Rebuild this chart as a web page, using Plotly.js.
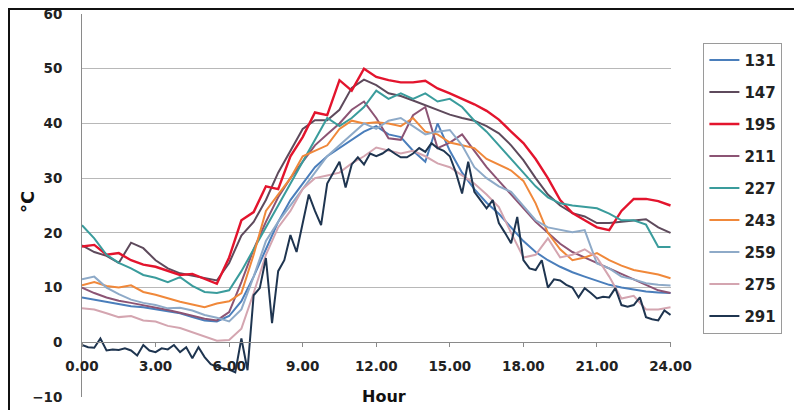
<!DOCTYPE html>
<html>
<head>
<meta charset="utf-8">
<script src="https://cdn.plot.ly/plotly-3.0.1.min.js"></script>
<style>
  html, body { margin: 0; padding: 0; background: #fff; }
  #wrap { position: relative; width: 794px; height: 410px; overflow: hidden; }
  #chart { position: absolute; left: 0; top: 0; width: 794px; height: 410px; }
  #frame { position: absolute; left: 8px; top: 8px; width: 800px; height: 420px;
           border-left: 2px solid #111; border-top: 2px solid #111; pointer-events: none; }
</style>
</head>
<body>
<div id="wrap">
  <div id="chart"></div>
  <div id="frame"></div>
</div>
<script>
// ---- data ----
const hours = [0,0.5,1,1.5,2,2.5,3,3.5,4,4.5,5,5.5,6,6.5,7,7.5,8,8.5,9,9.5,10,10.5,11,11.5,12,
  12.5,13,13.5,14,14.5,15,15.5,16,16.5,17,17.5,18,18.5,19,19.5,20,20.5,21,21.5,22,22.5,23,23.5,24];

const hoursQ = [0,0.25,0.5,0.75,1,1.25,1.5,1.75,2,2.25,2.5,2.75,3,3.25,3.5,3.75,4,4.25,4.5,4.75,
  5,5.25,5.5,5.75,6,6.25,6.5,6.75,7,7.25,7.5,7.75,8,8.25,8.5,8.75,9,9.25,9.5,9.75,
  10,10.25,10.5,10.75,11,11.25,11.5,11.75,12,12.25,12.5,12.75,13,13.25,13.5,13.75,
  14,14.25,14.5,14.75,15,15.25,15.5,15.75,16,16.25,16.5,16.75,17,17.25,17.5,17.75,
  18,18.25,18.5,18.75,19,19.25,19.5,19.75,20,20.25,20.5,20.75,21,21.25,21.5,21.75,
  22,22.25,22.5,22.75,23,23.25,23.5,23.75,24];

const s131 = [8.2,7.8,7.4,7.0,6.6,6.4,6.0,5.6,5.3,4.6,4.0,3.8,4.8,7.5,12,17,22,26,29,32,34,35.5,37,38.5,39.5,
  38,37.5,35,33,40,35,31,28,25.5,23.5,21,18.5,16.5,15,13.8,12.8,12,11.3,10.5,10,9.6,9.3,9.1,9];

const s147 = [17.7,16.5,15.8,14.5,18.2,17.2,15,13.5,12.6,12.2,11.8,11.3,14.5,19.5,22,26,31,35,39,40.6,40.6,42.5,46.5,48,47,
  45.5,45,44.2,43.3,42.5,41.6,41,40.5,39.5,38.2,36,33.3,30,27,25,23.6,23,21.8,21.8,22,22.3,22.5,21,20];

const s195 = [17.5,17.8,16.0,16.3,15.0,14.2,13.8,13.0,12.3,12.5,11.6,10.7,15.5,22.3,23.8,28.5,28,34,37.5,42,41.5,47.9,46,50,48.5,
  47.9,47.5,47.5,47.8,46.4,45.5,44.5,43.5,42.3,40.7,38.5,36.4,33.5,30,26,23.6,22.3,21,20.5,24,26.2,26.2,25.8,25];

const s211 = [10,9,8.2,7.6,7.2,6.8,6.3,5.9,5.4,4.8,4.3,4.0,5.5,11,17,22,26.5,30,33,36,38,40,42.5,44,41,
  37.3,37,41.5,43,35.5,36.5,38,35,32,29.5,27,24.5,22,20,18,16.5,15.5,14.5,13.5,12.5,11.5,10.5,9.5,9];

const s227 = [21.4,19,16,14.5,13.5,12.3,11.8,11,11.9,10.3,9.2,9,9.5,13,17,21,25,29,33,37,41,39.5,41,43,46,
  44.5,45.5,44.5,45.5,44,44.5,43,40.5,38.5,36,33.5,30.9,28.5,26.5,25.4,25,24.7,24.5,23.5,22.3,22.3,21.5,17.4,17.4];

const s243 = [10.4,11,10.3,10,10.4,9.2,8.7,8,7.4,6.9,6.4,7.1,7.5,9,16,24,27,30,34,35,36,39,40.5,40,40.2,
  40,39.5,41,38.5,38,36.5,36,35.5,33.5,32.5,31.4,29.5,25.4,20,17,15,15.5,16.3,15,14,13.2,12.8,12.4,11.7];

const s259 = [11.5,12,10,8.8,7.8,7.2,6.8,6.2,6.3,5.8,5.0,4.5,3.8,6,12,18.5,22,25,28,31,34,36,38,40,39,
  40.5,41,39.5,38,38.5,38.8,36,32,30,28.5,27.5,25,22.3,21,20.5,20.1,20.5,14.4,13.5,12,11.5,10.8,10.5,10.4];

const s275 = [6.2,6.0,5.3,4.6,4.8,4.0,3.8,3.0,2.6,1.8,1.0,0.3,0.4,2.5,9,16,21,24,28,30,30.5,31,32.7,34,35.6,
  35.1,34.5,35,34,32.7,32,30.5,29,27,24.7,20,15.5,16,19,15.5,16,17,15.5,12,8,8.5,6,6,6.4];

const s291 = [-0.5,-0.9,-1.0,0.7,-1.5,-1.3,-1.4,-1.1,-1.5,-2.4,-0.5,-1.5,-1.8,-1.1,-1.3,-0.5,-1.8,-0.9,-2.9,-0.9,
  -2.7,-4.0,-4.5,-4.8,-5.0,-5.5,0.7,-5.1,8.6,9.9,15.4,3.5,13,15,19.6,16.5,22,27,24,21.4,
  29,31,33,28.3,32.5,33.8,32.5,34.5,34,34.5,35.3,34.5,33.8,33.8,34.5,35.5,
  34.8,36.4,35.5,35,34,31,27.2,33,27.5,26,24.5,26,21.8,20,18.1,22.9,
  15,13.5,13.2,15,10,11.5,11.3,10.5,10,8.2,9.9,9,8,8.3,8.2,9.9,
  6.8,6.5,6.8,8.2,4.6,4.2,4,5.8,5];

const seriesNames = ['131','147','195','211','227','243','259','275','291'];
const seriesColors = ['#4a7ebb','#5e4a5c','#e3142d','#8c5474','#3a9c9c','#f0883a','#8eaac8','#d4a5b0','#1f3550'];
const seriesX = [hours,hours,hours,hours,hours,hours,hours,hours,hoursQ];
const seriesY = [s131,s147,s195,s211,s227,s243,s259,s275,s291];

const yTicks = [-10,0,10,20,30,40,50,60];
const xTicks = [0,3,6,9,12,15,18,21,24];

// ---- traces ----
const traces = seriesNames.map((n, i) => ({
  type: 'scatter', mode: 'lines', name: n, legendgroup: n,
  x: seriesX[i], y: seriesY[i],
  line: { color: seriesColors[i], width: n === '195' ? 2.4 : 2 }
}));

const boldFont = { family: 'DejaVu Sans, Verdana, sans-serif', weight: 'bold', color: '#222' };

const layout = {
  width: 794, height: 410,
  margin: { l: 82, r: 101, t: 14, b: 13, pad: 0 },
  paper_bgcolor: '#ffffff', plot_bgcolor: '#ffffff',
  showlegend: true,
  legend: {
    x: 1.055, xanchor: 'left', y: 0.925, yanchor: 'top',
    bordercolor: '#9a9a9a', borderwidth: 1, bgcolor: '#ffffff',
    font: Object.assign({}, boldFont, { size: 15 }),
    traceorder: 'grouped', tracegroupgap: 9.5, itemwidth: 30
  },
  xaxis: {
    range: [0, 24.02], tickvals: xTicks, tickformat: '.2f',
    anchor: 'free', position: 10 / 70,
    showline: true, linecolor: '#8a8a8a', linewidth: 1,
    ticks: 'outside', ticklen: 4, tickcolor: '#8a8a8a',
    ticklabelstandoff: 8,
    showgrid: false, zeroline: false,
    tickfont: Object.assign({}, boldFont, { size: 13.5 })
  },
  yaxis: {
    range: [-10, 60], tickvals: yTicks,
    showgrid: true, gridcolor: '#b8b8b8', gridwidth: 1,
    zeroline: false, showline: true, linecolor: '#8a8a8a', linewidth: 1,
    ticks: '', ticklabelstandoff: 16,
    tickfont: Object.assign({}, boldFont, { size: 13.5 })
  },
  annotations: [
    { text: '°C', xref: 'paper', yref: 'paper', x: -0.093, y: 0.51, textangle: -90,
      showarrow: false, xanchor: 'center', yanchor: 'middle',
      font: Object.assign({}, boldFont, { size: 18, color: '#111' }) },
    { text: 'Hour', xref: 'paper', yref: 'paper', x: 0.512, y: -0.0285,
      showarrow: false, xanchor: 'center', yanchor: 'bottom',
      font: Object.assign({}, boldFont, { size: 16, color: '#111' }) }
  ]
};

Plotly.newPlot('chart', traces, layout, { displayModeBar: false, staticPlot: true });
</script>
</body>
</html>
